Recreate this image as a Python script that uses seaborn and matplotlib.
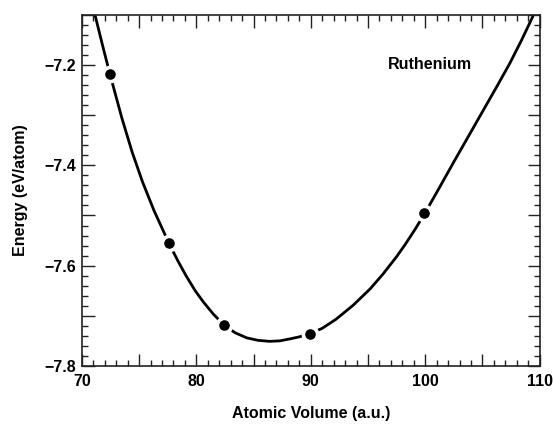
import numpy as np
import pandas as pd
import matplotlib
matplotlib.use('Agg')
import matplotlib.pyplot as plt
import seaborn as sns
from matplotlib.ticker import MultipleLocator, FuncFormatter

# calculated points (atomic volume, energy)
vol_pts = [72.45, 77.6, 82.4, 89.9, 99.9]
energy_pts = [-7.218, -7.554, -7.718, -7.737, -7.495]

# fitted curve
vol_curve = [71.15, 71.8, 72.45, 73.5, 74.4, 75.3, 76.3, 77.6, 78.4, 79.1, 79.9, 80.6,
             81.5, 82.4, 83.4, 84.4, 85.4, 86.4, 87.3, 88.2, 89.0, 89.9, 91.0, 92.2,
             93.7, 95.2, 96.3, 97.5, 98.3, 99.1, 99.9, 101.2, 102.5, 103.8, 105.1,
             106.3, 107.4, 108.4, 109.4]
energy_curve = [-7.100, -7.160, -7.218, -7.306, -7.374, -7.433, -7.490, -7.555, -7.591,
                -7.620, -7.650, -7.672, -7.697, -7.718, -7.734, -7.744, -7.749, -7.751,
                -7.750, -7.746, -7.742, -7.736, -7.725, -7.707, -7.679, -7.646, -7.617,
                -7.582, -7.556, -7.528, -7.498, -7.446, -7.393, -7.341, -7.289, -7.241,
                -7.196, -7.151, -7.103]

curve = pd.DataFrame({'vol': vol_curve, 'E': energy_curve})
pts = pd.DataFrame({'vol': vol_pts, 'E': energy_pts})

sns.set_style('ticks')
plt.rcParams['font.family'] = ['Liberation Sans', 'DejaVu Sans']
plt.rcParams['font.weight'] = 'bold'
plt.rcParams['text.color'] = 'black'
plt.rcParams['axes.labelcolor'] = 'black'
plt.rcParams['xtick.color'] = 'black'
plt.rcParams['ytick.color'] = 'black'

fig = plt.figure(figsize=(5.53, 4.25), dpi=100)
ax = fig.add_axes([0.148, 0.139, 0.828, 0.826])

sns.lineplot(data=curve, x='vol', y='E', ax=ax, color='black', linewidth=2.0, sort=False)
sns.scatterplot(data=pts, x='vol', y='E', ax=ax, color='black', s=105,
                edgecolor='white', linewidth=2.6, zorder=5)

ax.set_xlim(70, 110)
ax.set_ylim(-7.8, -7.1)

ax.xaxis.set_major_locator(MultipleLocator(5))
ax.xaxis.set_minor_locator(MultipleLocator(1))
ax.yaxis.set_major_locator(MultipleLocator(0.1))
ax.yaxis.set_minor_locator(MultipleLocator(0.02))
ax.xaxis.set_major_formatter(FuncFormatter(
    lambda v, p: f'{v:.0f}' if round(v) % 10 == 0 else ''))
ax.yaxis.set_major_formatter(FuncFormatter(
    lambda v, p: f'\u2212{abs(v):.1f}' if round(v * 10) % 2 == 0 else ''))

ax.tick_params(which='both', direction='in', top=True, right=True, width=1.0, color='#222222')
ax.tick_params(which='major', length=9, labelsize=11.5)
ax.tick_params(which='minor', length=4)
ax.tick_params(axis='x', which='major', pad=6)
ax.tick_params(axis='y', which='major', pad=4)
for s in ax.spines.values():
    s.set_linewidth(1.2)
    s.set_color('#222222')
    s.set_visible(True)

ax.set_xlabel('Atomic Volume (a.u.)', fontsize=11.5, fontweight='bold', labelpad=12)
ax.set_ylabel('Energy (eV/atom)', fontsize=11.5, fontweight='bold', labelpad=12)
ax.text(100.4, -7.198, 'Ruthenium', fontsize=11.5, fontweight='bold', ha='center', va='center')

fig.savefig('out.png', dpi=100)
